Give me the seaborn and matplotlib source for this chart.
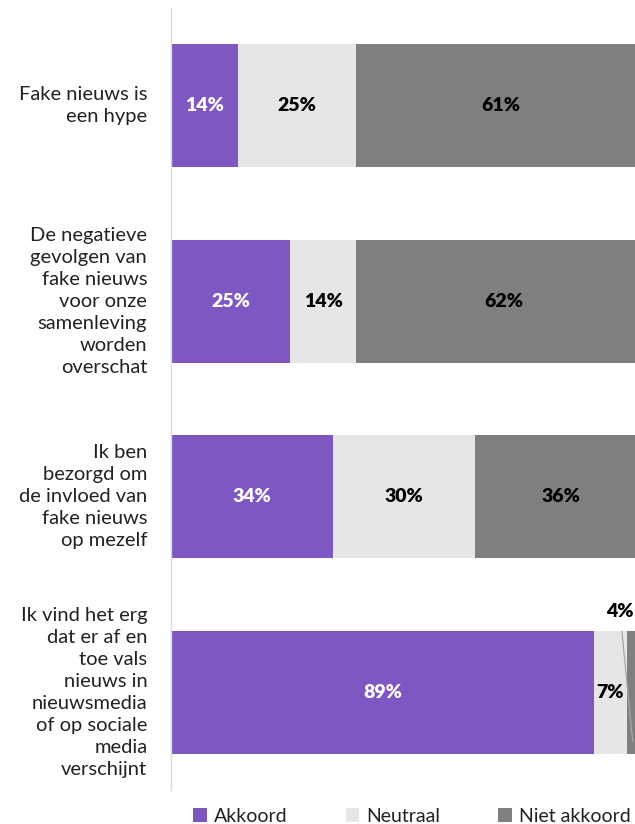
import numpy as np
import pandas as pd
import matplotlib.pyplot as plt
import seaborn as sns
from matplotlib.patches import Patch

# --- Data ---
statements = [
    "Fake nieuws is\neen hype",
    "De negatieve\ngevolgen van\nfake nieuws\nvoor onze\nsamenleving\nworden\noverschat",
    "Ik ben\nbezorgd om\nde invloed van\nfake nieuws\nop mezelf",
    "Ik vind het erg\ndat er af en\ntoe vals\nnieuws in\nnieuwsmedia\nof op sociale\nmedia\nverschijnt",
]
akkoord = [14, 25, 34, 89]
neutraal = [25, 14, 30, 7]
niet_akkoord = [61, 62, 36, 4]

series = ["Akkoord", "Neutraal", "Niet akkoord"]
colors = ["#7E57C2", "#E6E6E6", "#7F7F7F"]
label_colors = ["white", "black", "black"]

df = pd.DataFrame({
    "statement": statements,
    "Akkoord": akkoord,
    "Neutraal": neutraal,
    "Niet akkoord": niet_akkoord,
})
df["cum_akk"] = df["Akkoord"]
df["cum_neu"] = df["cum_akk"] + df["Neutraal"]
df["cum_all"] = df["cum_neu"] + df["Niet akkoord"]

# --- Style ---
sns.set_style("white")
plt.rcParams["font.family"] = ["Lato", "DejaVu Sans"]

fig = plt.figure(figsize=(6.35, 8.24), dpi=100)
ax = fig.add_axes([171 / 635, 34 / 824, 475 / 635, 782 / 824])

# stacked bars: draw cumulative totals back to front
for col, color in zip(["cum_all", "cum_neu", "cum_akk"], colors[::-1]):
    sns.barplot(data=df, x=col, y="statement", orient="h", color=color,
                width=0.63, ax=ax, saturation=1, linewidth=0)

ax.set_xlim(0, 100)
ax.set_ylim(3.5, -0.5)
ax.set_xlabel("")
ax.set_ylabel("")
ax.set_xticks([])
ax.set_yticks([])

# category labels drawn by hand so the line spacing sticks
for i, s in enumerate(statements):
    ax.text(-5.0, i, s, ha="right", va="center", multialignment="right",
            fontsize=14.5, color="#222222", linespacing=1.36, clip_on=False)

for side in ["top", "right", "bottom"]:
    ax.spines[side].set_visible(False)
ax.spines["left"].set_color("#D9D9D9")
ax.spines["left"].set_linewidth(1)

# value labels
for i, row in df.iterrows():
    left = 0
    for name, lc in zip(series, label_colors):
        val = row[name]
        if not (i == 3 and name == "Niet akkoord"):
            ax.text(left + val / 2, i, f"{val}%", ha="center", va="center",
                    fontsize=14, fontweight="heavy", color=lc)
        left += val

# small segment label with leader line
ax.annotate(f"{niet_akkoord[3]}%", xy=(akkoord[3] + neutraal[3] + 1.2, 3.25),
            xytext=(94.5, 2.585), ha="center", va="center",
            fontsize=14, fontweight="heavy", color="black",
            arrowprops=dict(arrowstyle="-", color="#A6A6A6", lw=0.9,
                            shrinkA=6, shrinkB=0))

handles = [Patch(facecolor=c, edgecolor="none", label=s) for s, c in zip(series, colors)]
fig.legend(handles=handles, loc="center", bbox_to_anchor=(412 / 635, 1 - 816 / 824),
           ncol=3, frameon=False, fontsize=14, handlelength=0.7, handleheight=0.7,
           handletextpad=0.35, columnspacing=3.0, labelcolor="#222222")

plt.savefig("out.png", dpi=100)
